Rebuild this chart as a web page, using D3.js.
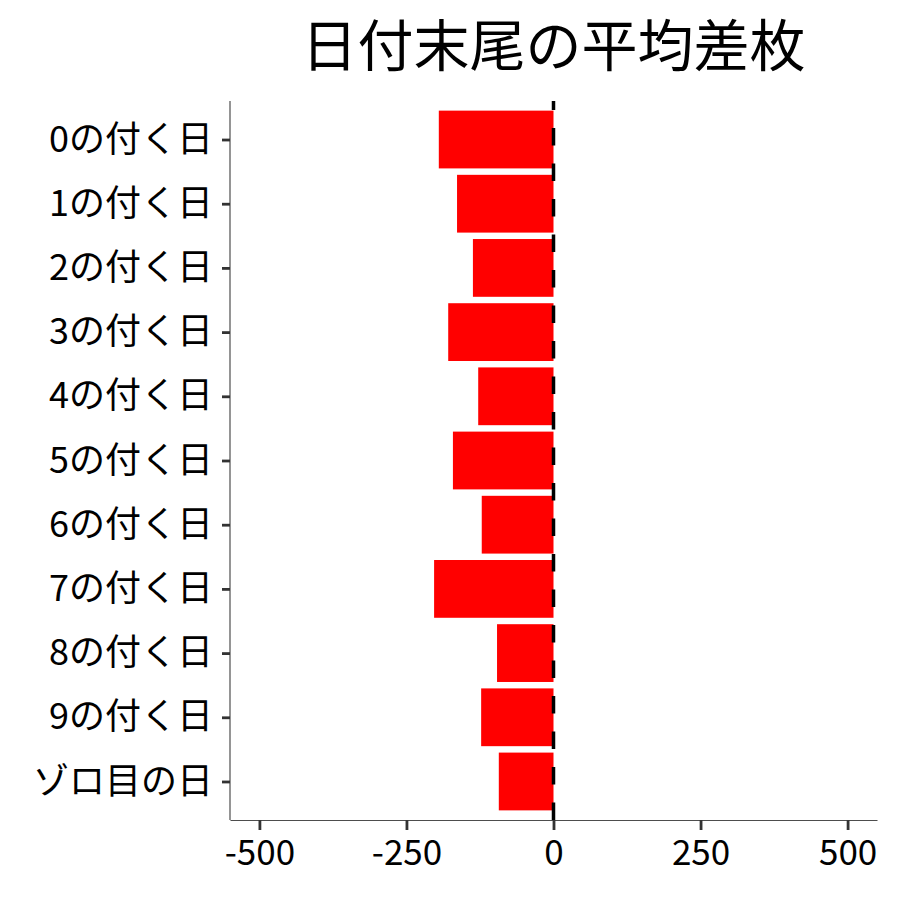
<!DOCTYPE html>
<head>
    <meta charset="utf-8">
    <script src="https://cdn.jsdelivr.net/npm/d3@7"></script>
    <style>
        body { margin: 0; background: #fff; }
        text { font-family: "Noto Sans CJK JP", "Noto Sans", sans-serif; }
    </style>
</head>
<body>
    <div id="chart"></div>
    <script>
        const width = 900, height = 900;

        // données
        const categories = ["0の付く日", "1の付く日", "2の付く日", "3の付く日", "4の付く日",
            "5の付く日", "6の付く日", "7の付く日", "8の付く日", "9の付く日", "ゾロ目の日"];
        const values = [-195, -164, -137, -179, -128, -171, -122, -203, -96, -123, -93];
        const xTicks = [-500, -250, 0, 250, 500];
        const title = "日付末尾の平均差枚";

        const margin = { top: 101, right: 23, bottom: 80, left: 230 };

        const svg = d3.select("#chart").append("svg")
            .attr("width", width)
            .attr("height", height);

        const x = d3.scaleLinear()
            .domain([-550, 550])
            .range([margin.left, width - margin.right]);

        // bande discrète avec expansion 0.6 de chaque côté (comme ggplot)
        const step = (height - margin.bottom - margin.top) / (categories.length - 1 + 1.2);
        const y = d3.scalePoint()
            .domain(categories)
            .range([margin.top + 0.6 * step, height - margin.bottom - 0.6 * step]);
        const barH = 0.9 * step;

        // barres
        svg.append("g")
            .selectAll("rect")
            .data(categories)
            .join("rect")
            .attr("x", (d, i) => x(Math.min(0, values[i])))
            .attr("width", (d, i) => Math.abs(x(values[i]) - x(0)))
            .attr("y", d => y(d) - barH / 2)
            .attr("height", barH)
            .attr("fill", "#ff0000");

        // ligne verticale pointillée à 0
        svg.append("line")
            .attr("x1", x(0)).attr("x2", x(0))
            .attr("y1", height - margin.bottom).attr("y2", margin.top)
            .attr("stroke", "#000")
            .attr("stroke-width", 3.5)
            .attr("stroke-dasharray", "17.5,18");

        // axe x
        const xAxis = svg.append("g")
            .attr("transform", `translate(0,${height - margin.bottom})`)
            .call(d3.axisBottom(x).tickValues(xTicks).tickSize(10).tickSizeOuter(0).tickPadding(10)
                .tickFormat(d => String(d)));
        xAxis.select(".domain").attr("stroke", "#4d4d4d").attr("stroke-width", 1.2);
        xAxis.selectAll(".tick line").attr("stroke", "#333").attr("stroke-width", 2.8);
        xAxis.selectAll(".tick text")
            .attr("fill", "#000")
            .style("font-size", "35px")
            .style("font-family", "'Noto Sans CJK JP', sans-serif");

        // axe y
        const yAxis = svg.append("g")
            .attr("transform", `translate(${margin.left},0)`)
            .call(d3.axisLeft(y).tickSize(8).tickSizeOuter(0).tickPadding(9));
        yAxis.select(".domain").attr("stroke", "#4d4d4d").attr("stroke-width", 1.2)
            .attr("d", `M0,${margin.top}V${height - margin.bottom}`);
        yAxis.selectAll(".tick line").attr("stroke", "#333").attr("stroke-width", 2.8);
        yAxis.selectAll(".tick text")
            .attr("fill", "#000")
            .style("font-size", "36px")
            .style("font-family", "'Noto Sans CJK JP', sans-serif");

        // titre
        svg.append("text")
            .attr("x", (margin.left + width - margin.right) / 2)
            .attr("y", 66)
            .attr("text-anchor", "middle")
            .style("font-size", "56px")
            .attr("fill", "#000")
            .text(title);
    </script>
</body>
